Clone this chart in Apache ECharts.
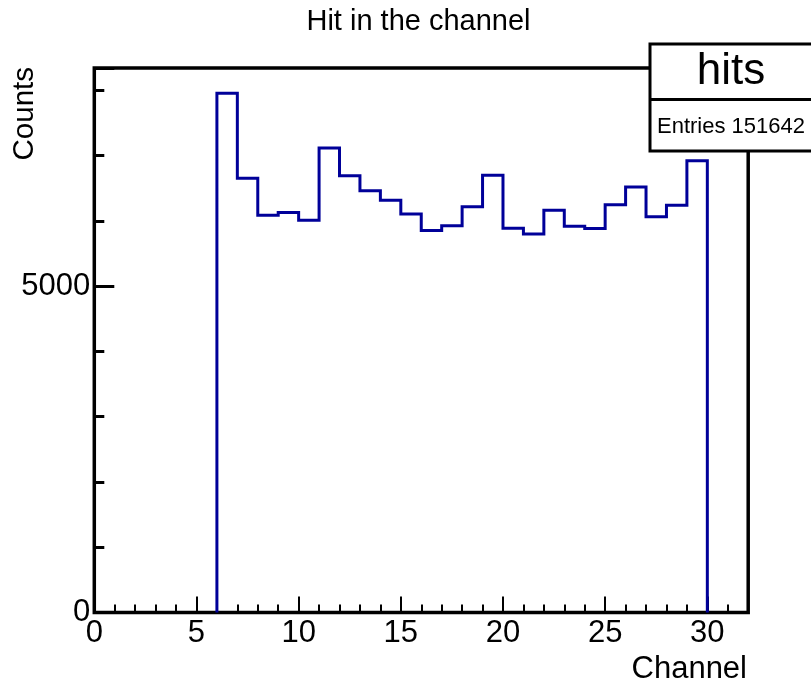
<!DOCTYPE html>
<html>
<head>
<meta charset="utf-8">
<script src="https://cdn.jsdelivr.net/npm/echarts@6/dist/echarts.min.js"></script>
<style>
html,body{margin:0;padding:0;background:#fff;}
#chart{width:811px;height:688px;}
</style>
</head>
<body>
<div id="chart"></div>
<script>
// ---- data ----
const binLowEdges = [6,7,8,9,10,11,12,13,14,15,16,17,18,19,20,21,22,23,24,25,26,27,28,29];
const counts = [7954,6652,6086,6126,6009,7116,6692,6462,6315,6106,5850,5926,6217,6698,5886,5799,6162,5917,5881,6248,6519,6064,6239,6922];
const binWidth = 1;
const xTickLabels = [0,5,10,15,20,25,30];
const yTickLabels = [0,5000];
const titleText = 'Hit in the channel';
const statsName = 'hits';
const statsEntries = 'Entries 151642';

// ---- build histogram outline ----
const outline = [[binLowEdges[0], 0]];
binLowEdges.forEach((x, i) => {
  outline.push([x, counts[i]]);
  outline.push([x + binWidth, counts[i]]);
});
outline.push([binLowEdges[binLowEdges.length - 1] + binWidth, 0]);

const FONT = '"Liberation Sans", Arial, Helvetica, sans-serif';
const xMin = 0, xMax = 32, yMin = 0, yMax = 8341;

const chart = echarts.init(document.getElementById('chart'), null, {renderer: 'canvas'});
chart.setOption({
  animation: false,
  backgroundColor: '#fff',
  grid: {
    left: 94.3, right: 62.8, top: 68, bottom: 75.5,
    show: true, borderColor: '#000', borderWidth: 3.5, backgroundColor: 'transparent',
    containLabel: false
  },
  xAxis: [
    {
      type: 'value', min: xMin, max: xMax, interval: 1, position: 'bottom',
      axisLine: {show: false}, splitLine: {show: false},
      axisTick: {show: true, inside: true, length: 8, lineStyle: {color: '#000', width: 2}},
      axisLabel: {show: false}
    },
    {
      type: 'value', min: xMin, max: xMax, interval: 5, position: 'bottom',
      axisLine: {show: false}, splitLine: {show: false},
      axisTick: {show: true, inside: true, length: 16, lineStyle: {color: '#000', width: 2}},
      axisLabel: {
        show: true, margin: 5, color: '#000', fontSize: 31, fontFamily: FONT,
        formatter: v => xTickLabels.includes(v) ? String(v) : ''
      }
    }
  ],
  yAxis: [
    {
      type: 'value', min: yMin, max: yMax, interval: 1000, position: 'left',
      axisLine: {show: false}, splitLine: {show: false},
      axisTick: {show: true, inside: true, length: 10, lineStyle: {color: '#000', width: 3}},
      axisLabel: {show: false}
    },
    {
      type: 'value', min: yMin, max: yMax, interval: 5000, position: 'left',
      axisLine: {show: false}, splitLine: {show: false},
      axisTick: {show: true, inside: true, length: 20, lineStyle: {color: '#000', width: 3}},
      axisLabel: {
        show: true, margin: 4, color: '#000', fontSize: 31, fontFamily: FONT,
        formatter: v => yTickLabels.includes(v) ? String(v) : ''
      }
    }
  ],
  series: [{
    type: 'line',
    xAxisIndex: 0, yAxisIndex: 0,
    data: outline,
    showSymbol: false,
    symbol: 'none',
    lineStyle: {color: '#000099', width: 3, join: 'miter', cap: 'butt'},
    z: 1
  }],
  graphic: [
    {type: 'text', x: 418.5, y: 21.5, style: {text: titleText, font: '29px ' + FONT, fill: '#000', textAlign: 'center', textVerticalAlign: 'middle'}},
    {type: 'text', x: 25, y: 67, rotation: Math.PI / 2, style: {text: 'Counts', font: '29.5px ' + FONT, fill: '#000', textAlign: 'right', textVerticalAlign: 'middle'}},
    {type: 'text', x: 747, y: 669, style: {text: 'Channel', font: '31px ' + FONT, fill: '#000', textAlign: 'right', textVerticalAlign: 'middle'}},
    {type: 'rect', shape: {x: 650, y: 44, width: 175, height: 107}, style: {fill: '#fff', stroke: '#000', lineWidth: 3}, z: 100},
    {type: 'line', shape: {x1: 650, y1: 99.5, x2: 820, y2: 99.5}, style: {stroke: '#000', lineWidth: 3}, z: 101},
    {type: 'text', x: 731, y: 72, style: {text: statsName, font: '44px ' + FONT, fill: '#000', textAlign: 'center', textVerticalAlign: 'middle'}, z: 102},
    {type: 'text', x: 731, y: 126.5, style: {text: statsEntries, font: '22px ' + FONT, fill: '#000', textAlign: 'center', textVerticalAlign: 'middle'}, z: 102}
  ]
});
</script>
</body>
</html>
